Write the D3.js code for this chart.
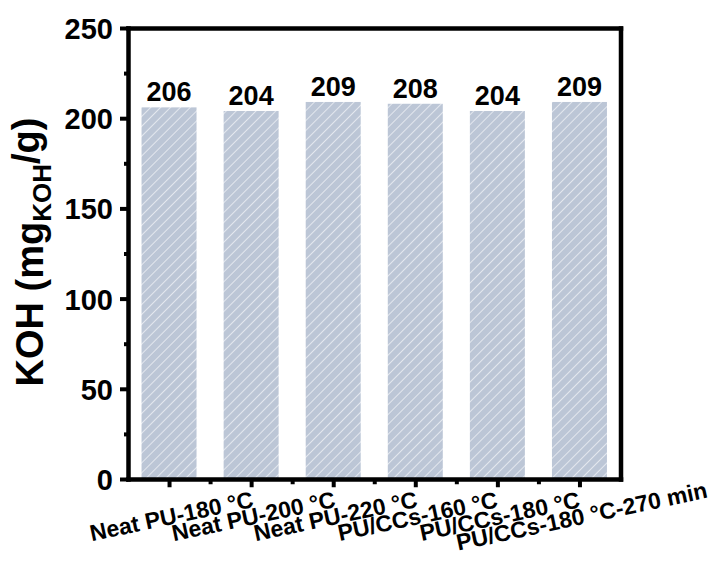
<!DOCTYPE html>
<html>
<head>
<meta charset="utf-8">
<script src="https://cdn.jsdelivr.net/npm/d3@7"></script>
<style>
  html, body { margin: 0; padding: 0; background: #fff; }
  svg { display: block; }
  text { font-family: "Liberation Sans", Arial, sans-serif; font-weight: bold; fill: #000; }
</style>
</head>
<body>
<script>
// Hydroxyl value of the recycled polyols
const categories = ["Neat PU-180 °C", "Neat PU-200 °C", "Neat PU-220 °C",
                    "PU/CCs-160 °C", "PU/CCs-180 °C", "PU/CCs-180 °C-270 min"];
const kohValues = [206, 204, 209, 208, 204, 209];
const yMajorTicks = [0, 50, 100, 150, 200, 250];
const yMinorTicks = [25, 75, 125, 175, 225];

const W = 718, H = 565;
const frame = { left: 128, right: 620.5, top: 28, bottom: 479 };

const svg = d3.select("body").append("svg")
  .attr("width", W).attr("height", H);

// diagonal white hatch over the bar fill
const defs = svg.append("defs");
const pat = defs.append("pattern")
  .attr("id", "hatch")
  .attr("patternUnits", "userSpaceOnUse")
  .attr("width", 7).attr("height", 7)
  .attr("patternTransform", "rotate(45)");
pat.append("rect").attr("width", 7).attr("height", 7).attr("fill", "#bcc6d6");
pat.append("line")
  .attr("x1", 0).attr("y1", 0).attr("x2", 0).attr("y2", 7)
  .attr("stroke", "#ffffff").attr("stroke-width", 1.3).attr("stroke-opacity", 0.9);

const x = d3.scalePoint()
  .domain(categories)
  .range([frame.left, frame.right])
  .padding(0.5);
const step = x.step();
const barW = step * 0.67;

const y = d3.scaleLinear()
  .domain([0, 250])
  .range([frame.bottom, frame.top]);

// bars
svg.append("g").selectAll("rect")
  .data(categories)
  .join("rect")
  .attr("x", d => x(d) - barW / 2)
  .attr("width", barW)
  .attr("y", (d, i) => y(kohValues[i]))
  .attr("height", (d, i) => y(0) - y(kohValues[i]))
  .attr("fill", "url(#hatch)");

// value labels
svg.append("g").selectAll("text")
  .data(categories)
  .join("text")
  .attr("x", d => x(d))
  .attr("y", (d, i) => y(kohValues[i]) - 6)
  .attr("text-anchor", "middle")
  .style("font-size", "27px")
  .text((d, i) => kohValues[i]);

const axisStroke = 4.5;
function styleAxis(g) {
  g.select(".domain").attr("stroke", "#000").attr("stroke-width", axisStroke)
    .attr("stroke-linecap", "square");
  g.selectAll(".tick line").attr("stroke", "#000").attr("stroke-width", 4);
}

// minor ticks (drawn first so the main axes sit on top)
const minorX = [];
for (let i = 0; i <= categories.length; i++) minorX.push(frame.left + step * i);
svg.append("g")
  .attr("transform", `translate(0,${frame.bottom})`)
  .call(d3.axisBottom(d3.scaleLinear().domain([frame.left, frame.right]).range([frame.left, frame.right]))
    .tickValues(minorX.slice(1, -1)).tickSize(3 + axisStroke / 2).tickFormat(""))
  .call(styleAxis)
  .call(g => g.select(".domain").remove());

svg.append("g")
  .attr("transform", `translate(${frame.left},0)`)
  .call(d3.axisLeft(y).tickValues(yMinorTicks).tickSize(4).tickFormat(""))
  .call(styleAxis)
  .call(g => g.select(".domain").remove());

// top and right frame lines
svg.append("g")
  .attr("transform", `translate(0,${frame.top})`)
  .call(d3.axisTop(x).tickValues([]).tickSizeOuter(0))
  .call(styleAxis);
svg.append("g")
  .attr("transform", `translate(${frame.right},0)`)
  .call(d3.axisRight(y).tickValues([]).tickSizeOuter(0))
  .call(styleAxis);

// y axis
const yAxis = svg.append("g")
  .attr("transform", `translate(${frame.left},0)`)
  .call(d3.axisLeft(y).tickValues(yMajorTicks).tickSize(8).tickSizeOuter(0).tickPadding(7))
  .call(styleAxis);
yAxis.selectAll(".tick text")
  .style("font-size", "29px").attr("dy", "0.36em")
  .style("font-family", "'Liberation Sans', Arial, sans-serif").style("font-weight", "bold");

// x axis
const xAxis = svg.append("g")
  .attr("transform", `translate(0,${frame.bottom})`)
  .call(d3.axisBottom(x).tickSize(6 + axisStroke / 2).tickSizeOuter(0).tickFormat(""))
  .call(styleAxis);

// rotated category labels
svg.append("g").selectAll("text")
  .data(categories)
  .join("text")
  .attr("transform", d => `translate(${x(d) + 4},${frame.bottom + 45}) rotate(-12)`)
  .attr("text-anchor", "middle")
  .style("font-size", "23px")
  .text(d => d);

// y axis title with subscript
const title = svg.append("text")
  .attr("transform", `translate(43,252) rotate(-90)`)
  .attr("text-anchor", "middle")
  .style("font-size", "38px");
title.append("tspan").text("KOH (mg");
title.append("tspan").attr("dy", "0.3em").style("font-size", "26px").text("KOH");
title.append("tspan").attr("dy", "-0.3em").text("/g)");
</script>
</body>
</html>
